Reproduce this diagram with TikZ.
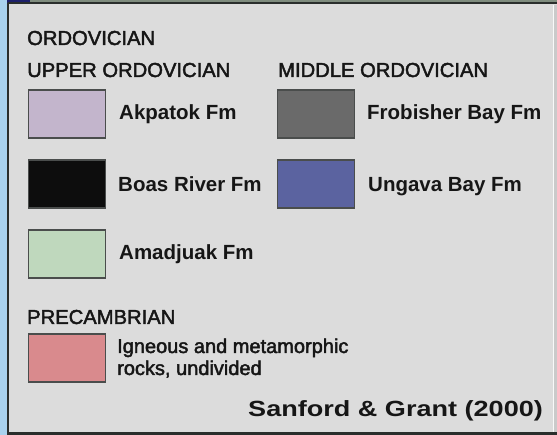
\documentclass[tikz,border=0pt]{standalone}
\usepackage{fontspec}
\setmainfont{Liberation Sans}
\newfontfamily\hdrfont{Liberation Sans}[FakeBold=2.2]
\definecolor{panel}{HTML}{DCDCDC}
\definecolor{sidebl}{HTML}{A9D2EE}
\definecolor{frameln}{HTML}{2A2E2C}
\definecolor{topstrip}{HTML}{7F8C7E}
\definecolor{cakpatok}{HTML}{C3B5CC}
\definecolor{cfrob}{HTML}{6A6A6A}
\definecolor{cboas}{HTML}{0D0D0D}
\definecolor{cungava}{HTML}{5B63A0}
\definecolor{camad}{HTML}{BFD8BD}
\definecolor{cprec}{HTML}{D98A8D}
\definecolor{txt}{HTML}{161616}
\tikzset{
  swatch/.style={draw=frameln!85!white, line width=1.3pt, minimum width=77pt, minimum height=48pt, inner sep=0pt, anchor=north west},
  header/.style={anchor=base west, inner sep=0pt, text=txt, font=\hdrfont\fontsize{20.2}{24}\selectfont},
  fmlabel/.style={anchor=base west, inner sep=0pt, text=txt, font=\fontsize{20.5}{24}\selectfont\bfseries},
  desc/.style={anchor=base west, inner sep=0pt, text=txt, font=\hdrfont\fontsize{20}{24}\selectfont},
}
\begin{document}
\begin{tikzpicture}[x=1pt, y=-1pt]
\useasboundingbox (0,0) rectangle (557,435);
% background and frame
\fill[panel] (0,0) rectangle (557,435);
\fill[sidebl] (0,0) rectangle (6.5,435);
\fill[topstrip] (6.5,0) rectangle (557,3);
\fill[frameln!70!blue] (6.5,0) rectangle (30,3);
\draw[frameln, line width=2pt] (8,3.5) -- (557,3.5);
\draw[frameln, line width=2.2pt] (8,3) -- (8,435);
\draw[frameln, line width=2.6pt] (8,433.5) -- (557,433.5);
\draw[white!95!gray, line width=1pt] (553.5,5) -- (553.5,432);
\fill[panel!92!black] (554,5) rectangle (557,432);
% headers
\node[header] (ordo) at (27,45) {ORDOVICIAN};
\node[header] (upper) at (27,77) {UPPER ORDOVICIAN};
\node[header] (middle) at (278,77) {MIDDLE ORDOVICIAN};
\node[header] (prec) at (27,324) {PRECAMBRIAN};
% swatches
\node[swatch, fill=cakpatok] (bakp) at (28,89.5) {};
\node[swatch, fill=cfrob] (bfrob) at (276.5,89.5) {};
\node[swatch, fill=cboas] (bboas) at (28,159.5) {};
\node[swatch, fill=cungava] (bung) at (276.5,159.5) {};
\node[swatch, fill=camad] (bamad) at (28,229.5) {};
\node[swatch, fill=cprec] (bprec) at (28,333.5) {};
% labels
\node[fmlabel] (lakp) at (119,120) {Akpatok Fm};
\node[fmlabel] (lfrob) at (367,120) {Frobisher Bay Fm};
\node[fmlabel] (lboas) at (118,192) {Boas River Fm};
\node[fmlabel] (lung) at (368,192) {Ungava Bay Fm};
\node[fmlabel] (lamad) at (119,260) {Amadjuak Fm};
\node[desc] (ign1) at (117,353) {Igneous and metamorphic};
\node[desc] (ign2) at (117,375) {rocks, undivided};
% source
\node[anchor=base west, inner sep=0pt, text=txt, font=\fontsize{22}{26}\selectfont\bfseries] (src) at (248,417) {\scalebox{1.23}[1]{Sanford \& Grant (2000)}};
\end{tikzpicture}
\end{document}
